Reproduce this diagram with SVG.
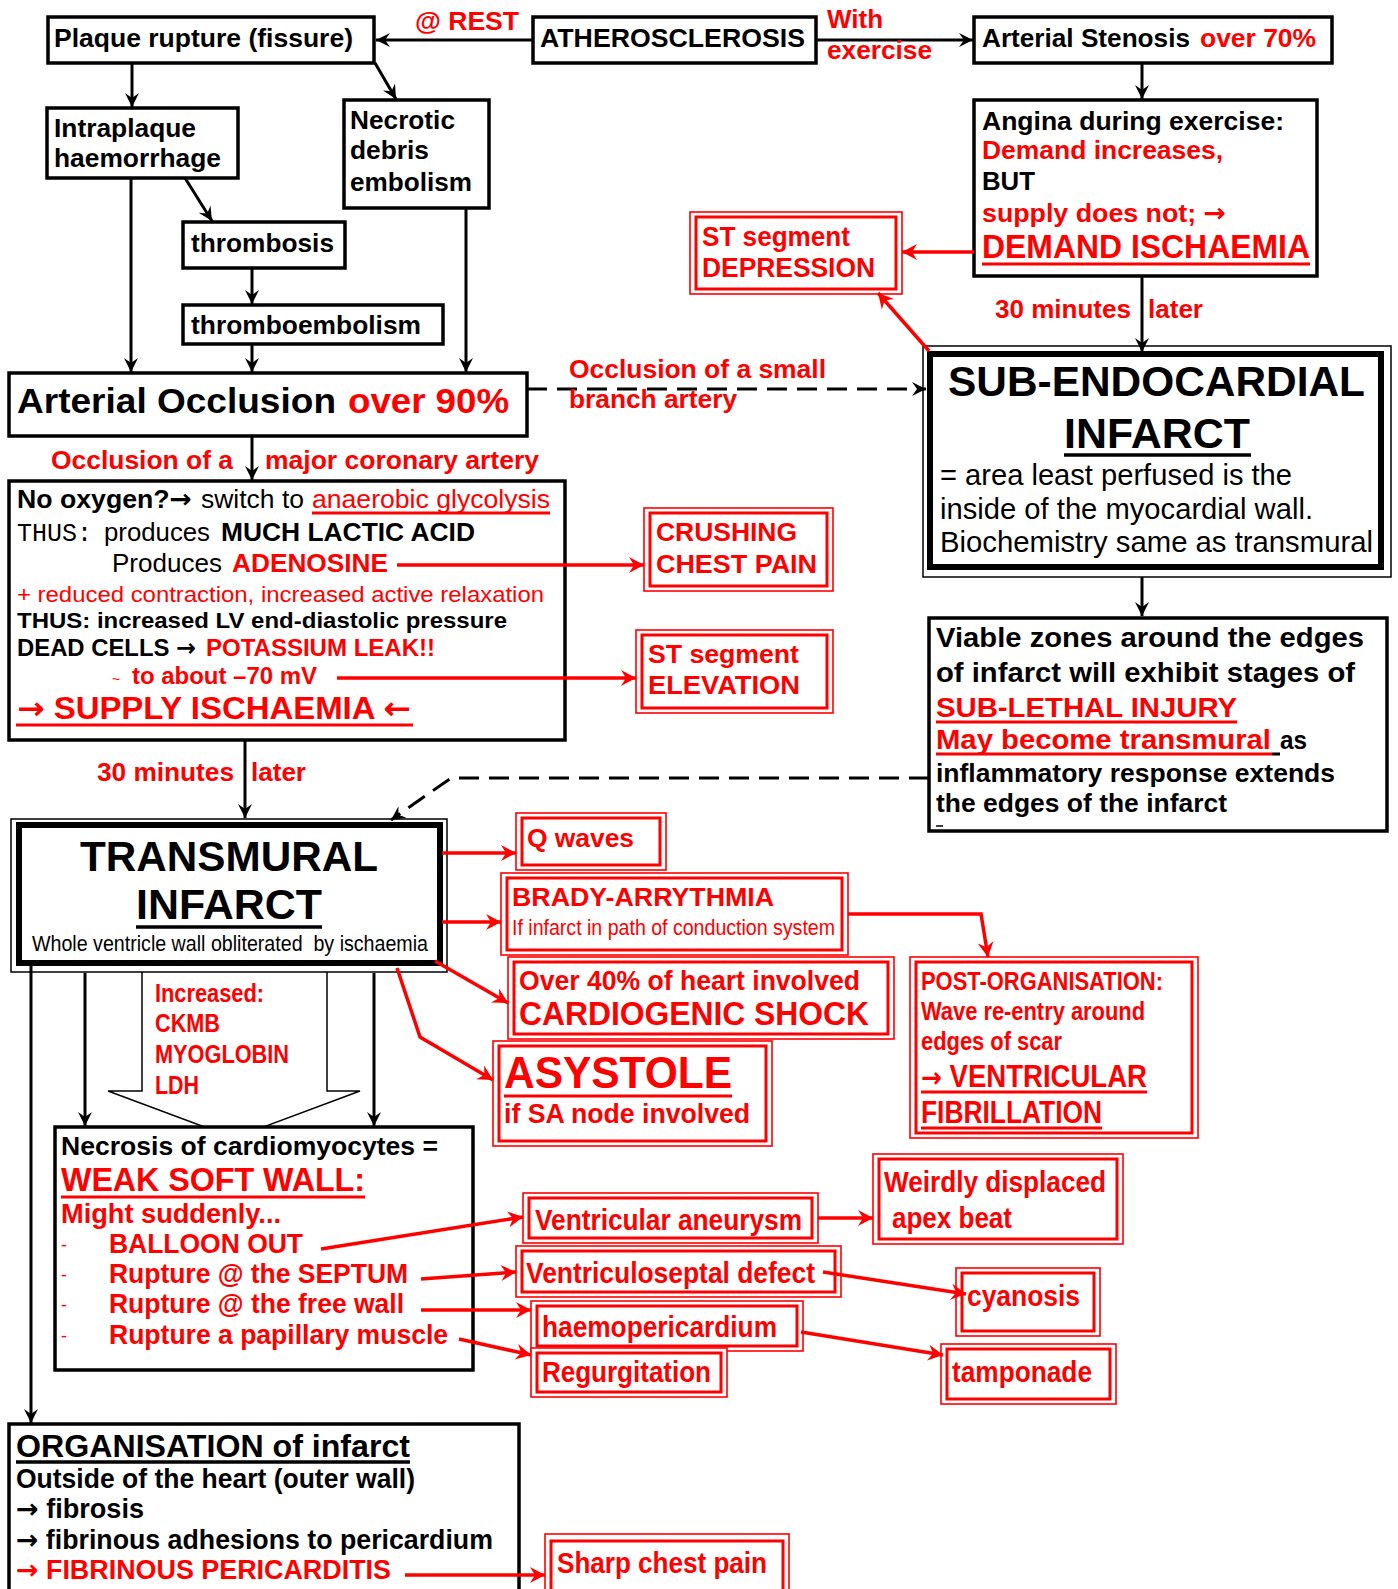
<svg xmlns="http://www.w3.org/2000/svg" width="1398" height="1589" viewBox="0 0 1398 1589">
<style>
text{font-family:"Liberation Sans",Arial,Helvetica,sans-serif;font-weight:bold;fill:#000}
.n{font-weight:normal}
.m{font-family:"Liberation Mono","Courier New",monospace;font-weight:normal}
.ar{font-family:"DejaVu Sans",sans-serif;font-weight:bold}
.red{fill:#f00}
.box{fill:#fff;stroke:#000;stroke-width:3.5}
.thin{fill:#fff;stroke:#000;stroke-width:1.5}
.thick{fill:none;stroke:#000;stroke-width:6}
.ro{fill:#fff;stroke:#f00;stroke-width:1.6}
.ri{fill:none;stroke:#f00;stroke-width:3}
.k{stroke:#000;stroke-width:3;fill:none}
.rk{stroke:#f00;stroke-width:3.5;fill:none}
.d{stroke-dasharray:20 10}
.ul{stroke:#000;stroke-width:3.5}
.ulr{stroke:#f00;stroke-width:3}
</style>
<defs>
<marker id="ah" markerUnits="userSpaceOnUse" markerWidth="18" markerHeight="16" viewBox="-16 -8 18 16" refX="0" refY="0" orient="auto"><path d="M0,0 L-14,-7 L-9,0 L-14,7 Z" fill="#000"/></marker>
<marker id="ahr" markerUnits="userSpaceOnUse" markerWidth="18" markerHeight="18" viewBox="-16 -9 18 18" refX="0" refY="0" orient="auto"><path d="M0,0 L-15,-8 L-10,0 L-15,8 Z" fill="#f00"/></marker>
</defs>
<rect x="0" y="0" width="1398" height="1589" fill="#fff"/>

<g id="hollow-arrow">
<path d="M142,972 L142,1091 L108,1091 L234,1138 L360,1091 L327,1091 L327,972" fill="#fff" stroke="#000" stroke-width="1.5"/>
<text class="red" x="155" y="1002" font-size="25" textLength="109" lengthAdjust="spacingAndGlyphs">Increased:</text>
<text class="red" x="155" y="1032" font-size="25" textLength="65" lengthAdjust="spacingAndGlyphs">CKMB</text>
<text class="red" x="155" y="1063" font-size="25" textLength="134" lengthAdjust="spacingAndGlyphs">MYOGLOBIN</text>
<text class="red" x="155" y="1094" font-size="25" textLength="44" lengthAdjust="spacingAndGlyphs">LDH</text>
</g>

<g id="plaque"><rect class="box" x="48" y="17" width="326" height="46"/>
<text x="54" y="47" font-size="26" textLength="299" lengthAdjust="spacingAndGlyphs">Plaque rupture (fissure)</text></g>

<g id="atherosclerosis"><rect class="box" x="533" y="17" width="283" height="46"/>
<text x="540" y="47" font-size="26" textLength="265" lengthAdjust="spacingAndGlyphs">ATHEROSCLEROSIS</text></g>

<g id="stenosis"><rect class="box" x="974" y="17" width="358" height="46"/>
<text x="982" y="47" font-size="26" textLength="208" lengthAdjust="spacingAndGlyphs">Arterial Stenosis</text>
<text class="red" x="1200" y="47" font-size="26" textLength="116" lengthAdjust="spacingAndGlyphs">over 70%</text></g>

<g id="intraplaque"><rect class="box" x="47" y="108" width="191" height="70"/>
<text x="54" y="137" font-size="26" textLength="142" lengthAdjust="spacingAndGlyphs">Intraplaque</text>
<text x="54" y="167" font-size="26" textLength="167" lengthAdjust="spacingAndGlyphs">haemorrhage</text></g>

<g id="necrotic"><rect class="box" x="344" y="100" width="145" height="108"/>
<text x="350" y="129" font-size="26" textLength="105" lengthAdjust="spacingAndGlyphs">Necrotic</text>
<text x="350" y="159" font-size="26" textLength="79" lengthAdjust="spacingAndGlyphs">debris</text>
<text x="350" y="191" font-size="26" textLength="122" lengthAdjust="spacingAndGlyphs">embolism</text></g>

<g id="thrombosis"><rect class="box" x="183" y="222" width="162" height="46"/>
<text x="191" y="252" font-size="26" textLength="143" lengthAdjust="spacingAndGlyphs">thrombosis</text></g>

<g id="thromboembolism"><rect class="box" x="183" y="305" width="260" height="39"/>
<text x="191" y="334" font-size="26" textLength="230" lengthAdjust="spacingAndGlyphs">thromboembolism</text></g>

<g id="angina"><rect class="box" x="974" y="100" width="343" height="176"/>
<text x="982" y="130" font-size="26" textLength="302" lengthAdjust="spacingAndGlyphs">Angina during exercise:</text>
<text class="red" x="982" y="159" font-size="26" textLength="241" lengthAdjust="spacingAndGlyphs">Demand increases,</text>
<text x="982" y="190" font-size="26" textLength="53" lengthAdjust="spacingAndGlyphs">BUT</text>
<text class="red" x="982" y="222" font-size="26" textLength="244" lengthAdjust="spacingAndGlyphs">supply does not; <tspan class="ar">→</tspan></text>
<text class="red" x="982" y="258" font-size="33" textLength="328" lengthAdjust="spacingAndGlyphs">DEMAND ISCHAEMIA</text>
<line class="ulr" x1="982" y1="264" x2="1310" y2="264"/></g>

<g id="st-depression"><rect class="ro" x="690" y="212" width="212" height="82"/><rect class="ri" x="696" y="217" width="200" height="72"/>
<text class="red" x="702" y="246" font-size="27" textLength="148" lengthAdjust="spacingAndGlyphs">ST segment</text>
<text class="red" x="702" y="277" font-size="27" textLength="173" lengthAdjust="spacingAndGlyphs">DEPRESSION</text></g>

<g id="sub-endocardial"><rect class="thin" x="923" y="346" width="468" height="231"/><rect class="thick" x="930" y="354" width="451" height="213"/>
<text x="948" y="396" font-size="43" textLength="417" lengthAdjust="spacingAndGlyphs">SUB-ENDOCARDIAL</text>
<text x="1064" y="448" font-size="43" textLength="186" lengthAdjust="spacingAndGlyphs">INFARCT</text>
<line class="ul" x1="1064" y1="455" x2="1251" y2="455" stroke-width="4"/>
<text class="n" x="940" y="485" font-size="29" textLength="352" lengthAdjust="spacingAndGlyphs">= area least perfused is the</text>
<text class="n" x="940" y="519" font-size="29" textLength="373" lengthAdjust="spacingAndGlyphs">inside of the myocardial wall.</text>
<text class="n" x="940" y="552" font-size="29" textLength="433" lengthAdjust="spacingAndGlyphs">Biochemistry same as transmural</text></g>

<g id="occlusion"><rect class="box" x="9" y="373" width="518" height="63"/>
<text x="17" y="413" font-size="35" textLength="319" lengthAdjust="spacingAndGlyphs">Arterial Occlusion</text>
<text class="red" x="348" y="413" font-size="35" textLength="161" lengthAdjust="spacingAndGlyphs">over 90%</text></g>

<g id="supply-ischaemia"><rect class="box" x="9" y="481" width="556" height="259"/>
<text x="17" y="508" font-size="26" textLength="175" lengthAdjust="spacingAndGlyphs">No oxygen?<tspan class="ar">→</tspan></text>
<text class="n" x="201" y="508" font-size="26" textLength="103" lengthAdjust="spacingAndGlyphs">switch to</text>
<text class="n red" x="312" y="508" font-size="26" textLength="238" lengthAdjust="spacingAndGlyphs">anaerobic glycolysis</text>
<line class="ulr" x1="312" y1="513" x2="550" y2="513" stroke-width="2"/>
<text class="m" x="17" y="541" font-size="26" textLength="75" lengthAdjust="spacingAndGlyphs">THUS:</text>
<text class="n" x="104" y="541" font-size="26" textLength="106" lengthAdjust="spacingAndGlyphs">produces</text>
<text x="221" y="541" font-size="26" textLength="254" lengthAdjust="spacingAndGlyphs">MUCH LACTIC ACID</text>
<text class="n" x="112" y="572" font-size="26" textLength="110" lengthAdjust="spacingAndGlyphs">Produces</text>
<text class="red" x="232" y="572" font-size="26" textLength="156" lengthAdjust="spacingAndGlyphs">ADENOSINE</text>
<text class="n red" x="17" y="602" font-size="22" textLength="527" lengthAdjust="spacingAndGlyphs">+ reduced contraction, increased active relaxation</text>
<text x="17" y="628" font-size="22" textLength="490" lengthAdjust="spacingAndGlyphs">THUS: increased LV end-diastolic pressure</text>
<text x="17" y="656" font-size="24" textLength="179" lengthAdjust="spacingAndGlyphs">DEAD CELLS <tspan class="ar">→</tspan></text>
<text class="red" x="206" y="656" font-size="24" textLength="229" lengthAdjust="spacingAndGlyphs">POTASSIUM LEAK!!</text>
<text class="n red" x="112" y="684" font-size="14">~</text>
<text class="red" x="132" y="684" font-size="24" textLength="185" lengthAdjust="spacingAndGlyphs">to about –70 mV</text>
<text class="red" x="17" y="719" font-size="31" textLength="394" lengthAdjust="spacingAndGlyphs"><tspan class="ar">→</tspan> SUPPLY ISCHAEMIA <tspan class="ar">←</tspan></text>
<line class="ulr" x1="16" y1="725" x2="413" y2="725"/></g>

<g id="crushing-chest-pain"><rect class="ro" x="644" y="508" width="189" height="83"/><rect class="ri" x="650" y="513" width="177" height="73"/>
<text class="red" x="656" y="541" font-size="26" textLength="141" lengthAdjust="spacingAndGlyphs">CRUSHING</text>
<text class="red" x="656" y="573" font-size="26" textLength="161" lengthAdjust="spacingAndGlyphs">CHEST PAIN</text></g>

<g id="st-elevation"><rect class="ro" x="636" y="630" width="197" height="83"/><rect class="ri" x="642" y="635" width="185" height="73"/>
<text class="red" x="648" y="663" font-size="26" textLength="151" lengthAdjust="spacingAndGlyphs">ST segment</text>
<text class="red" x="648" y="694" font-size="26" textLength="152" lengthAdjust="spacingAndGlyphs">ELEVATION</text></g>

<g id="viable-zones"><rect class="box" x="929" y="618" width="458" height="213"/>
<text x="936" y="647" font-size="28" textLength="428" lengthAdjust="spacingAndGlyphs">Viable zones around the edges</text>
<text x="936" y="682" font-size="28" textLength="419" lengthAdjust="spacingAndGlyphs">of infarct will exhibit stages of</text>
<text class="red" x="936" y="717" font-size="28" textLength="301" lengthAdjust="spacingAndGlyphs">SUB-LETHAL INJURY</text>
<line class="ulr" x1="936" y1="722" x2="1237" y2="722"/>
<text class="red" x="936" y="749" font-size="28" textLength="335" lengthAdjust="spacingAndGlyphs">May become transmural</text>
<line class="ulr" x1="936" y1="754" x2="1272" y2="754"/>
<line stroke="#000" stroke-width="3" x1="1272" y1="754" x2="1280" y2="754"/>
<text x="1280" y="749" font-size="25" textLength="27" lengthAdjust="spacingAndGlyphs">as</text>
<text x="936" y="782" font-size="25" textLength="399" lengthAdjust="spacingAndGlyphs">inflammatory response extends</text>
<text x="936" y="812" font-size="25" textLength="291" lengthAdjust="spacingAndGlyphs">the edges of the infarct</text>
<line stroke="#000" stroke-width="1.5" x1="936" y1="826" x2="943" y2="826"/></g>

<g id="transmural"><rect class="thin" x="11" y="819" width="436" height="153"/><rect class="thick" x="19" y="825" width="421" height="138"/>
<text x="80" y="871" font-size="43" textLength="298" lengthAdjust="spacingAndGlyphs">TRANSMURAL</text>
<text x="136" y="919" font-size="43" textLength="186" lengthAdjust="spacingAndGlyphs">INFARCT</text>
<line class="ul" x1="136" y1="927" x2="322" y2="927" stroke-width="4"/>
<text class="n" x="32" y="951" font-size="22" xml:space="preserve" textLength="396" lengthAdjust="spacingAndGlyphs">Whole ventricle wall obliterated  by ischaemia</text></g>

<g id="q-waves"><rect class="ro" x="516" y="813" width="150" height="57"/><rect class="ri" x="522" y="818" width="138" height="47"/>
<text class="red" x="527" y="847" font-size="26" textLength="107" lengthAdjust="spacingAndGlyphs">Q waves</text></g>

<g id="brady"><rect class="ro" x="501" y="873" width="347" height="82"/><rect class="ri" x="507" y="878" width="335" height="72"/>
<text class="red" x="512" y="906" font-size="26" textLength="262" lengthAdjust="spacingAndGlyphs">BRADY-ARRYTHMIA</text>
<text class="n red" x="512" y="935" font-size="22" textLength="323" lengthAdjust="spacingAndGlyphs">If infarct in path of conduction system</text></g>

<g id="cardiogenic"><rect class="ro" x="508" y="957" width="386" height="82"/><rect class="ri" x="514" y="962" width="374" height="72"/>
<text class="red" x="519" y="990" font-size="27" textLength="341" lengthAdjust="spacingAndGlyphs">Over 40% of heart involved</text>
<text class="red" x="519" y="1025" font-size="33" textLength="350" lengthAdjust="spacingAndGlyphs">CARDIOGENIC SHOCK</text></g>

<g id="asystole"><rect class="ro" x="493" y="1041" width="279" height="105"/><rect class="ri" x="499" y="1046" width="267" height="95"/>
<text class="red" x="504" y="1088" font-size="45" textLength="228" lengthAdjust="spacingAndGlyphs">ASYSTOLE</text>
<line class="ulr" x1="504" y1="1096" x2="732" y2="1096" stroke-width="4"/>
<text class="red" x="504" y="1123" font-size="27" textLength="246" lengthAdjust="spacingAndGlyphs">if SA node involved</text></g>

<g id="post-organisation"><rect class="ro" x="910" y="957" width="288" height="181"/><rect class="ri" x="916" y="962" width="276" height="171"/>
<text class="red" x="921" y="990" font-size="25" textLength="242" lengthAdjust="spacingAndGlyphs">POST-ORGANISATION:</text>
<text class="red" x="921" y="1020" font-size="25" textLength="224" lengthAdjust="spacingAndGlyphs">Wave re-entry around</text>
<text class="red" x="921" y="1050" font-size="25" textLength="141" lengthAdjust="spacingAndGlyphs">edges of scar</text>
<text class="red" x="921" y="1087" font-size="31" textLength="226" lengthAdjust="spacingAndGlyphs"><tspan class="ar" font-size="28">→</tspan> VENTRICULAR</text>
<line class="ulr" x1="921" y1="1092" x2="1147" y2="1092"/>
<text class="red" x="921" y="1123" font-size="31" textLength="181" lengthAdjust="spacingAndGlyphs">FIBRILLATION</text>
<line class="ulr" x1="921" y1="1128" x2="1102" y2="1128" stroke-width="1.5"/></g>

<g id="necrosis"><rect class="box" x="55" y="1127" width="418" height="243"/>
<text x="61" y="1155" font-size="26" textLength="377" lengthAdjust="spacingAndGlyphs">Necrosis of cardiomyocytes =</text>
<text class="red" x="61" y="1191" font-size="34" textLength="304" lengthAdjust="spacingAndGlyphs">WEAK SOFT WALL:</text>
<line class="ulr" x1="61" y1="1197" x2="365" y2="1197" stroke-width="3.5"/>
<text class="red" x="61" y="1223" font-size="28" textLength="220" lengthAdjust="spacingAndGlyphs">Might suddenly...</text>
<text class="n red" x="61" y="1251" font-size="18">-</text>
<text class="red" x="109" y="1253" font-size="28" textLength="194" lengthAdjust="spacingAndGlyphs">BALLOON OUT</text>
<text class="n red" x="61" y="1281" font-size="18">-</text>
<text class="red" x="109" y="1283" font-size="28" textLength="299" lengthAdjust="spacingAndGlyphs">Rupture @ the SEPTUM</text>
<text class="n red" x="61" y="1311" font-size="18">-</text>
<text class="red" x="109" y="1313" font-size="28" textLength="295" lengthAdjust="spacingAndGlyphs">Rupture @ the free wall</text>
<text class="n red" x="61" y="1342" font-size="18">-</text>
<text class="red" x="109" y="1344" font-size="28" textLength="339" lengthAdjust="spacingAndGlyphs">Rupture a papillary muscle</text></g>

<g id="ventricular-aneurysm"><rect class="ro" x="523" y="1193" width="295" height="50"/><rect class="ri" x="529" y="1198" width="283" height="40"/>
<text class="red" x="535" y="1230" font-size="30" textLength="267" lengthAdjust="spacingAndGlyphs">Ventricular aneurysm</text></g>

<g id="weirdly-displaced"><rect class="ro" x="873" y="1154" width="250" height="90"/><rect class="ri" x="879" y="1159" width="238" height="80"/>
<text class="red" x="884" y="1192" font-size="30" textLength="222" lengthAdjust="spacingAndGlyphs">Weirdly displaced</text>
<text class="red" x="892" y="1228" font-size="30" textLength="120" lengthAdjust="spacingAndGlyphs">apex beat</text></g>

<g id="ventriculoseptal"><rect class="ro" x="516" y="1246" width="325" height="51"/><rect class="ri" x="522" y="1251" width="313" height="41"/>
<text class="red" x="526" y="1283" font-size="30" textLength="289" lengthAdjust="spacingAndGlyphs">Ventriculoseptal defect</text></g>

<g id="cyanosis"><rect class="ro" x="956" y="1268" width="144" height="68"/><rect class="ri" x="962" y="1273" width="132" height="58"/>
<text class="red" x="967" y="1306" font-size="30" textLength="113" lengthAdjust="spacingAndGlyphs">cyanosis</text></g>

<g id="haemopericardium"><rect class="ro" x="531" y="1301" width="272" height="50"/><rect class="ri" x="537" y="1306" width="260" height="40"/>
<text class="red" x="542" y="1337" font-size="30" textLength="235" lengthAdjust="spacingAndGlyphs">haemopericardium</text></g>

<g id="regurgitation"><rect class="ro" x="531" y="1348" width="196" height="49"/><rect class="ri" x="537" y="1353" width="184" height="39"/>
<text class="red" x="542" y="1382" font-size="30" textLength="169" lengthAdjust="spacingAndGlyphs">Regurgitation</text></g>

<g id="tamponade"><rect class="ro" x="941" y="1344" width="175" height="60"/><rect class="ri" x="947" y="1349" width="163" height="50"/>
<text class="red" x="952" y="1382" font-size="30" textLength="140" lengthAdjust="spacingAndGlyphs">tamponade</text></g>

<g id="organisation"><rect class="box" x="9" y="1424" width="510" height="190"/>
<text x="16" y="1457" font-size="32" textLength="394" lengthAdjust="spacingAndGlyphs">ORGANISATION of infarct</text>
<line class="ul" x1="16" y1="1462" x2="410" y2="1462"/>
<text x="16" y="1488" font-size="27" textLength="399" lengthAdjust="spacingAndGlyphs">Outside of the heart (outer wall)</text>
<text x="16" y="1518" font-size="27" textLength="128" lengthAdjust="spacingAndGlyphs"><tspan class="ar">→</tspan> fibrosis</text>
<text x="16" y="1549" font-size="27" textLength="477" lengthAdjust="spacingAndGlyphs"><tspan class="ar">→</tspan> fibrinous adhesions to pericardium</text>
<text class="red" x="16" y="1579" font-size="27" textLength="375" lengthAdjust="spacingAndGlyphs"><tspan class="ar">→</tspan> FIBRINOUS PERICARDITIS</text></g>

<g id="sharp-chest-pain"><rect class="ro" x="545" y="1534" width="244" height="80"/><rect class="ri" x="551" y="1541" width="232" height="70"/>
<text class="red" x="557" y="1573" font-size="30" textLength="210" lengthAdjust="spacingAndGlyphs">Sharp chest pain</text></g>

<g id="connectors">
<line class="k" x1="533" y1="40" x2="376" y2="40" marker-end="url(#ah)"/>
<line class="k" x1="816" y1="40" x2="973" y2="40" marker-end="url(#ah)"/>
<line class="k" x1="1142" y1="63" x2="1142" y2="99" marker-end="url(#ah)"/>
<line class="k" x1="132" y1="63" x2="132" y2="107" marker-end="url(#ah)"/>
<line class="k" x1="375" y1="63" x2="396" y2="99" marker-end="url(#ah)"/>
<line class="k" x1="185" y1="178" x2="212" y2="221" marker-end="url(#ah)"/>
<line class="k" x1="252" y1="268" x2="252" y2="304" marker-end="url(#ah)"/>
<line class="k" x1="252" y1="344" x2="252" y2="372" marker-end="url(#ah)"/>
<line class="k" x1="131" y1="178" x2="131" y2="372" marker-end="url(#ah)"/>
<line class="k" x1="466" y1="208" x2="466" y2="372" marker-end="url(#ah)"/>
<line class="k" x1="252" y1="436" x2="252" y2="480" marker-end="url(#ah)"/>
<line class="k d" x1="527" y1="389" x2="926" y2="389" marker-end="url(#ah)"/>
<line class="k" x1="1142" y1="276" x2="1142" y2="352" marker-end="url(#ah)"/>
<line class="k" x1="1142" y1="577" x2="1142" y2="616" marker-end="url(#ah)"/>
<line class="k" x1="245" y1="740" x2="245" y2="818" marker-end="url(#ah)"/>
<polyline class="k d" points="929,778 451,778 391,820" marker-end="url(#ah)"/>
<line class="k" x1="85" y1="973" x2="85" y2="1126" marker-end="url(#ah)"/>
<line class="k" x1="374" y1="973" x2="374" y2="1126" marker-end="url(#ah)"/>
<line class="k" x1="31" y1="960" x2="31" y2="1423" marker-end="url(#ah)"/>
<line class="rk" x1="974" y1="252" x2="902" y2="252" marker-end="url(#ahr)"/>
<line class="rk" x1="929" y1="351" x2="878" y2="293" marker-end="url(#ahr)"/>
<line class="rk" x1="397" y1="565" x2="644" y2="565" marker-end="url(#ahr)"/>
<line class="rk" x1="337" y1="678" x2="636" y2="678" marker-end="url(#ahr)"/>
<line class="rk" x1="442" y1="853" x2="516" y2="853" marker-end="url(#ahr)"/>
<line class="rk" x1="442" y1="922" x2="501" y2="922" marker-end="url(#ahr)"/>
<line class="rk" x1="435" y1="961" x2="508" y2="1003" marker-end="url(#ahr)"/>
<polyline class="rk" points="397,968 420,1037 493,1080" marker-end="url(#ahr)"/>
<polyline class="rk" points="848,914 981,914 988,957" marker-end="url(#ahr)"/>
<line class="rk" x1="321" y1="1249" x2="523" y2="1217" marker-end="url(#ahr)"/>
<line class="rk" x1="421" y1="1279" x2="516" y2="1272" marker-end="url(#ahr)"/>
<line class="rk" x1="421" y1="1310" x2="531" y2="1310" marker-end="url(#ahr)"/>
<line class="rk" x1="459" y1="1339" x2="531" y2="1355" marker-end="url(#ahr)"/>
<line class="rk" x1="818" y1="1218" x2="873" y2="1218" marker-end="url(#ahr)"/>
<line class="rk" x1="823" y1="1272" x2="966" y2="1294" marker-end="url(#ahr)"/>
<line class="rk" x1="801" y1="1332" x2="943" y2="1355" marker-end="url(#ahr)"/>
<line class="rk" x1="405" y1="1575" x2="545" y2="1575" marker-end="url(#ahr)"/>
</g>

<g id="connector-labels">
<text class="red" x="415" y="30" font-size="26" textLength="104" lengthAdjust="spacingAndGlyphs">@ REST</text>
<text class="red" x="827" y="28" font-size="26" textLength="56" lengthAdjust="spacingAndGlyphs">With</text>
<text class="red" x="827" y="59" font-size="26" textLength="105" lengthAdjust="spacingAndGlyphs">exercise</text>
<text class="red" x="995" y="318" font-size="26" textLength="136" lengthAdjust="spacingAndGlyphs">30 minutes</text>
<text class="red" x="1148" y="318" font-size="26" textLength="55" lengthAdjust="spacingAndGlyphs">later</text>
<text class="red" x="569" y="378" font-size="26" textLength="257" lengthAdjust="spacingAndGlyphs">Occlusion of a small</text>
<text class="red" x="569" y="408" font-size="26" textLength="168" lengthAdjust="spacingAndGlyphs">branch artery</text>
<text class="red" x="51" y="469" font-size="26" textLength="182" lengthAdjust="spacingAndGlyphs">Occlusion of a</text>
<text class="red" x="265" y="469" font-size="26" textLength="274" lengthAdjust="spacingAndGlyphs">major coronary artery</text>
<text class="red" x="97" y="781" font-size="26" textLength="137" lengthAdjust="spacingAndGlyphs">30 minutes</text>
<text class="red" x="251" y="781" font-size="26" textLength="55" lengthAdjust="spacingAndGlyphs">later</text>
</g>
</svg>
